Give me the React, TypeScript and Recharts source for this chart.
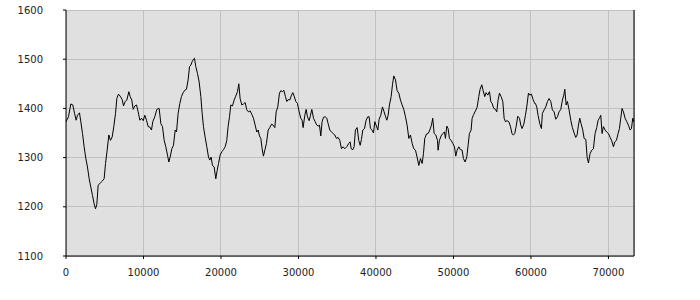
import React from 'react';
import { LineChart, Line, XAxis, YAxis, CartesianGrid } from 'recharts';

// sample positions (x) and readings (y)
const xs = [
  0, 320, 620, 880, 1100, 1310, 1480, 1740, 1910, 2130, 2340, 2560, 2770, 2990, 3200, 3420, 3630, 3810, 3980,
  4150, 4410, 4670, 4920, 5100, 5310, 5530, 5740, 5960, 6170, 6390, 6560, 6770, 6990, 7250, 7420, 7630, 7850,
  8110, 8280, 8490, 8670, 8880, 9100, 9310, 9530, 9740, 9960, 10170, 10390, 10600, 10820, 11030, 11200, 11460,
  11720, 12020, 12240, 12450, 12670, 12880, 13100, 13270, 13440, 13660, 13870, 14090, 14260, 14470, 14690,
  14900, 15120, 15330, 15550, 15760, 15940, 16110, 16280, 16450, 16580, 16750, 16970, 17180, 17400, 17570,
  17740, 17960, 18170, 18390, 18560, 18730, 18900, 19120, 19330, 19510, 19680, 19890, 20110, 20320, 20540,
  20750, 20920, 21100, 21270, 21480, 21700, 21910, 22130, 22300, 22470, 22690, 22900, 23120, 23330, 23550,
  23760, 23980, 24190, 24410, 24620, 24800, 24970, 25140, 25310, 25480, 25660, 25870, 26090, 26300, 26520,
  26730, 26950, 27120, 27330, 27550, 27720, 27940, 28110, 28320, 28490, 28670, 28880, 29100, 29270, 29440,
  29660, 29870, 30090, 30300, 30470, 30600, 30820, 30990, 31160, 31380, 31550, 31720, 31940, 32150, 32370,
  32540, 32710, 32880, 33050, 33230, 33440, 33660, 33830, 34040, 34260, 34470, 34690, 34900, 35120, 35330,
  35550, 35760, 35980, 36280, 36490, 36670, 36800, 37010, 37180, 37350, 37570, 37780, 37960, 38130, 38300,
  38520, 38730, 38950, 39120, 39290, 39460, 39680, 39850, 40020, 40240, 40410, 40620, 40840, 41050, 41230,
  41400, 41570, 41740, 41960, 42130, 42300, 42520, 42730, 42950, 43160, 43380, 43590, 43810, 44020, 44240,
  44450, 44670, 44880, 45100, 45310, 45530, 45740, 45960, 46130, 46300, 46520, 46730, 46950, 47160, 47330,
  47510, 47720, 47940, 48020, 48190, 48410, 48620, 48840, 48970, 49140, 49310, 49480, 49700, 49910, 50130,
  50300, 50470, 50690, 50900, 51120, 51290, 51510, 51720, 51890, 52060, 52280, 52410, 52620, 52840, 53050,
  53270, 53440, 53660, 53830, 54040, 54210, 54430, 54650, 54820, 54990, 55200, 55420, 55590, 55760, 55940,
  56150, 56370, 56540, 56710, 56920, 57140, 57350, 57570, 57740, 57910, 58090, 58300, 58520, 58690, 58860,
  59080, 59290, 59460, 59680, 59850, 60060, 60280, 60490, 60580, 60750, 60920, 61140, 61350, 61480, 61700,
  61910, 62130, 62340, 62560, 62770, 62990, 63200, 63420, 63630, 63850, 64060, 64240, 64370, 64540, 64710,
  64920, 65140, 65350, 65570, 65780, 65960, 66130, 66300, 66470, 66690, 66860, 67080, 67250, 67420, 67630,
  67850, 68060, 68280, 68490, 68670, 68840, 69010, 69180, 69350, 69570, 69780, 70000, 70220, 70430, 70650,
  70820, 71030, 71250, 71420, 71590, 71760, 71940, 72150, 72370, 72580, 72800, 72970, 73140, 73270,
];

const ys = [
  1373, 1383, 1409, 1407, 1390, 1376, 1386, 1391, 1373, 1349, 1322, 1298, 1281, 1257, 1240, 1223, 1206, 1196, 1205,
  1244, 1248, 1252, 1257, 1288, 1315, 1346, 1335, 1342, 1363, 1390, 1420, 1429, 1425, 1418, 1405, 1414, 1417,
  1434, 1424, 1417, 1398, 1405, 1407, 1393, 1376, 1380, 1375, 1386, 1376, 1363, 1362, 1356, 1373, 1383,
  1398, 1400, 1369, 1363, 1335, 1322, 1305, 1291, 1301, 1318, 1325, 1356, 1352, 1390, 1410,
  1424, 1432, 1437, 1439, 1458, 1485, 1488, 1495, 1500, 1502, 1485, 1471, 1454, 1424, 1390,
  1363, 1341, 1322, 1301, 1295, 1301, 1284, 1281, 1257, 1274, 1288, 1305, 1312, 1316, 1322,
  1335, 1363, 1383, 1407, 1405, 1417, 1425, 1434, 1450, 1420, 1407, 1409, 1412, 1397, 1393,
  1395, 1388, 1380, 1366, 1352, 1356, 1344, 1339, 1318, 1303, 1315, 1329, 1356, 1361, 1368,
  1366, 1361, 1393, 1403, 1431, 1436, 1434, 1437, 1424, 1414, 1418, 1417, 1427, 1432, 1425,
  1414, 1410, 1393, 1380, 1376, 1361, 1386, 1398, 1383, 1375, 1386, 1398, 1380, 1373, 1366,
  1364, 1366, 1344, 1373, 1382, 1383, 1380, 1369, 1356, 1352, 1349, 1346, 1339, 1341, 1335,
  1318, 1322, 1318, 1323, 1329, 1332, 1318, 1316, 1322, 1356, 1361, 1335, 1325, 1337, 1356,
  1359, 1376, 1383, 1383, 1359, 1357, 1350, 1373, 1366, 1356, 1378, 1386, 1403, 1393, 1384,
  1376, 1386, 1407, 1424, 1448, 1466, 1458, 1436, 1431, 1417, 1407, 1398, 1383, 1366, 1339,
  1346, 1329, 1318, 1315, 1301, 1284, 1298, 1288, 1308, 1339, 1348, 1349, 1356, 1366, 1380,
  1349, 1346, 1335, 1315, 1335, 1344, 1349, 1352, 1339, 1364, 1359, 1339, 1335, 1329, 1322,
  1303, 1315, 1322, 1316, 1315, 1298, 1291, 1301, 1325, 1349, 1356, 1380, 1388, 1395, 1402,
  1424, 1439, 1448, 1436, 1424, 1432, 1427, 1434, 1414, 1410, 1400, 1398, 1393, 1417, 1431,
  1424, 1414, 1380, 1373, 1375, 1373, 1364, 1348, 1346, 1349, 1363, 1384, 1380, 1366, 1359,
  1368, 1386, 1403, 1431, 1427, 1429, 1418, 1410, 1410, 1403, 1386, 1369, 1359, 1390, 1397,
  1403, 1414, 1420, 1414, 1397, 1393, 1378, 1383, 1393, 1398, 1417, 1427, 1439, 1407, 1414,
  1397, 1376, 1361, 1350, 1341, 1346, 1366, 1380, 1369, 1356, 1339, 1337, 1301, 1289, 1308,
  1315, 1318, 1349, 1361, 1376, 1380, 1386, 1349, 1363, 1356, 1352, 1349, 1341, 1334, 1322,
  1332, 1335, 1349, 1359, 1380, 1400, 1393, 1380, 1373, 1366, 1356, 1359, 1380, 1373,
];

const xTicks = [0, 10000, 20000, 30000, 40000, 50000, 60000, 70000];
const yTicks = [1100, 1200, 1300, 1400, 1500, 1600];

const data = xs.map((x, i) => ({ x, y: ys[i] }));

const tickStyle = { fontFamily: 'DejaVu Sans', fontSize: 10, fill: '#222' };

export default function App() {
  return (
    <div style={{ position: 'absolute', left: 0, top: 0, width: 700, height: 300, background: '#fff' }}>
      <LineChart width={700} height={300} data={data} margin={{ top: 10, right: 0, bottom: 0, left: 0 }}>
        {/* crisp 1px grid so the light lines don't blur away on the grey */}
        <CartesianGrid
          yAxisId="left"
          fill="#e0e0e0"
          fillOpacity={1}
          stroke="#c0c0c0"
          strokeWidth={1}
          shapeRendering="crispEdges"
        />
        <XAxis
          dataKey="x"
          type="number"
          domain={[0, 73300]}
          ticks={xTicks}
          height={44}
          stroke="#000"
          tickSize={3}
          tickMargin={10}
          tick={tickStyle}
        />
        <XAxis xAxisId="top" orientation="top" dataKey="x" type="number" domain={[0, 73300]} height={0} tick={false} tickLine={false} stroke="#000" />
        <YAxis
          yAxisId="left"
          domain={[1100, 1600]}
          ticks={yTicks}
          width={66}
          stroke="#000"
          tickSize={3}
          tickMargin={20}
          tick={tickStyle}
        />
        <YAxis
          yAxisId="right"
          orientation="right"
          domain={[1100, 1600]}
          ticks={yTicks}
          width={66}
          stroke="#000"
          tickSize={3}
          tickMargin={17}
          tick={{ ...tickStyle, textAnchor: 'start' }}
        />
        <Line
          yAxisId="left"
          dataKey="y"
          type="linear"
          stroke="#000"
          strokeWidth={1}
          dot={false}
          isAnimationActive={false}
        />
      </LineChart>
    </div>
  );
}
